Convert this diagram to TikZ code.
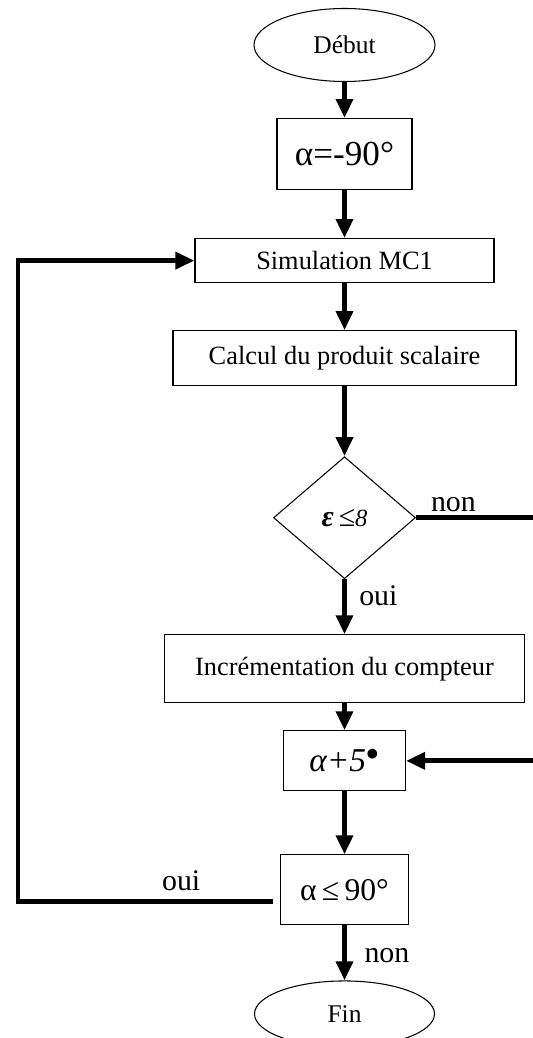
\documentclass[tikz,border=0pt]{standalone}
\usepackage{fontspec}
\setmainfont{Liberation Serif}
\usepackage{tikz}
\usetikzlibrary{arrows.meta,positioning,shapes.geometric}
\tikzset{
  termbox/.style={
    ellipse, draw, line width=0.6pt,
    inner sep=0pt, font=\fontsize{14.5}{17}\selectfont
  },
  stepbox/.style={
    rectangle, draw, line width=0.6pt,
    inner sep=2pt, align=center,
    font=\fontsize{15}{18}\selectfont
  },
  testbox/.style={
    diamond, draw, line width=0.6pt, inner sep=1pt,
    minimum width=2.84cm, minimum height=2.44cm,
    font=\fontsize{17}{20}\selectfont
  },
  flowarrow/.style={
    -{Triangle[length=0.38cm,width=0.33cm]}, line width=2.8pt
  },
  flowline/.style={line width=2.8pt},
  labelnode/.style={
    font=\fontsize{17}{20}\selectfont, inner sep=1pt
  },
}
\begin{document}
\begin{tikzpicture}

  \useasboundingbox (0,0) rectangle (10.66,-20.76);

  % main column, top to bottom
  \node[termbox, minimum width=3.62cm, minimum height=1.46cm] (debut) at (6.89,-0.9) {Début};
  \node[stepbox, below=0.72cm of debut, minimum width=2.7cm, minimum height=1.42cm,
        font=\fontsize{20}{24}\selectfont] (init) {α=-90°};
  \node[stepbox, below=0.96cm of init, minimum width=5.98cm, minimum height=0.88cm] (simu) {Simulation MC1};
  \node[stepbox, below=0.94cm of simu, minimum width=6.86cm, minimum height=1.1cm] (calcul) {Calcul du produit scalaire};
  \node[testbox, below=1.4cm of calcul] (test) {{\bfseries\itshape ε}\,≤{\itshape\fontsize{14}{16}\selectfont 8}};
  \node[stepbox, below=1.1cm of test, minimum width=7.2cm, minimum height=1.36cm] (incr) {Incrémentation du compteur};
  \node[stepbox, below=0.54cm of incr, minimum width=2.44cm, minimum height=1.2cm,
        font=\fontsize{19}{22}\selectfont] (angle) {{\itshape α+5}$^{\bullet}$};
  \node[stepbox, below=1.26cm of angle, minimum width=2.56cm, minimum height=1.4cm,
        font=\fontsize{18}{22}\selectfont] (cond) {α\,≤\,90°};
  \node[termbox, below=1.1cm of cond, minimum width=3.6cm, minimum height=1.32cm] (fin) {Fin};

  % free ends at the picture's edges
  \coordinate (rightedge) at (10.66,0);
  \coordinate (loopleft) at (0.36,0);
  \coordinate (loopstart) at ([xshift=-0.14cm, yshift=-0.24cm]cond.west);

  \draw[flowarrow] (debut) -- (init);
  \draw[flowarrow] (init) -- (simu);
  \draw[flowarrow] (simu) -- (calcul);
  \draw[flowarrow] (calcul) -- (test);
  \draw[flowarrow] (test) -- node[labelnode, right=6pt, pos=0.3] {oui} (incr);
  \draw[flowarrow] (incr) -- (angle);
  \draw[flowarrow] (angle) -- (cond);
  \draw[flowarrow] (cond) -- node[labelnode, right=9pt, pos=0.55] {non} (fin);

  % branch to the right and back in
  \draw[flowline] (test.east) -- node[labelnode, above=1pt, pos=0.32] {non} (test.east -| rightedge);
  \draw[flowarrow] (angle.east -| rightedge) -- (angle.east);

  % loop back to the simulation
  \draw[flowarrow] (loopstart) -- node[labelnode, above=4pt, pos=0.36] {oui}
    (loopstart -| loopleft) |- (simu.west);

\end{tikzpicture}
\end{document}
